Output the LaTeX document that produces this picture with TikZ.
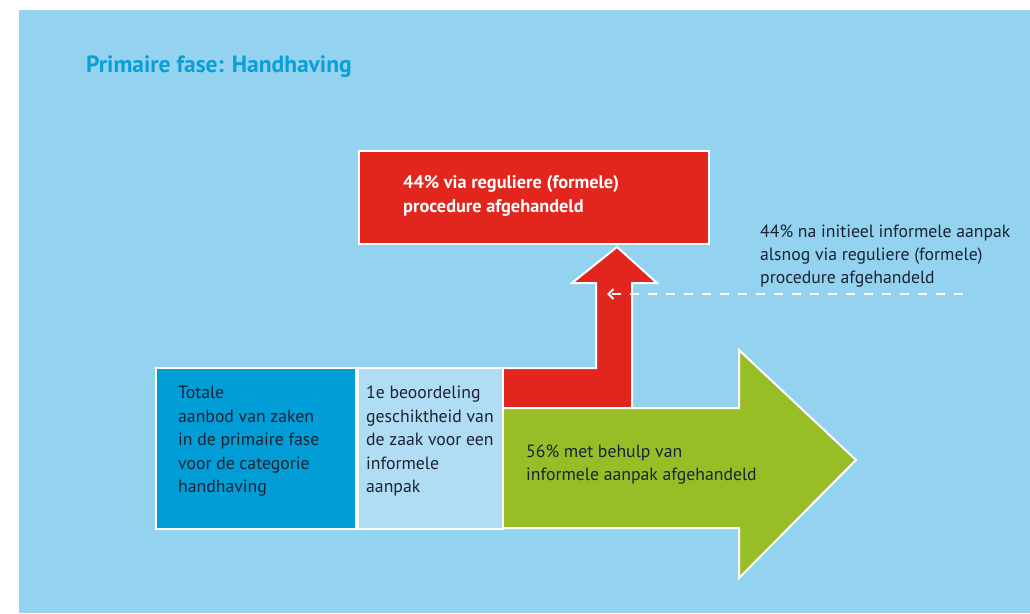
\documentclass[tikz,border=0pt]{standalone}
\usepackage{fontspec}
\setmainfont{PT Sans}
\usepackage{xcolor}
\usepackage{tikz}
\usetikzlibrary{arrows.meta}
\definecolor{achtergrond}{HTML}{93D3EF}
\definecolor{titelblauw}{HTML}{0A9FD8}
\definecolor{donkerblauw}{HTML}{009DD7}
\definecolor{lichtblauw}{HTML}{B0DDF3}
\definecolor{rood}{HTML}{E3261D}
\definecolor{groen}{HTML}{98BE27}
\definecolor{tekstkleur}{HTML}{1B2233}

\begin{document}
\begin{tikzpicture}[x=1pt,y=-1pt,
  vlak/.style={draw=white,line width=2pt},
  blok/.style={vlak,anchor=north west,inner sep=0pt},
  tekstje/.style={align=left,anchor=north west,inner sep=0pt,text=tekstkleur,
    font=\fontsize{17.7}{23.5}\selectfont}]
\useasboundingbox (0,0) rectangle (1030,613);
\fill[achtergrond] (19,10) rectangle (1030,613);
\node[anchor=base west,inner sep=0pt,text=titelblauw,font=\fontsize{23.5}{28}\selectfont\bfseries] (titel) at (86,72) {Primaire fase: Handhaving};
% rode pijl omhoog en rood vlak
\filldraw[vlak,fill=rood] (502,368) -- (596,368) -- (596,283) -- (572,283) -- (617,247)
  -- (657,283) -- (632,283) -- (632,408) -- (502,408) -- cycle;
\node[blok,fill=rood,minimum width=350pt,minimum height=93pt] (formeel) at (358,150) {};
% groene pijl
\filldraw[vlak,fill=groen] (502,408) -- (739,408) -- (739,350) -- (856,460) -- (739,578)
  -- (739,528) -- (502,528) -- cycle;
\node[blok,fill=donkerblauw,minimum width=200pt,minimum height=161pt] (totaal) at (155,367) {};
\node[blok,fill=lichtblauw,minimum width=145pt,minimum height=161pt] (beoordeling) at (357,367) {};
% teksten
\node[tekstje,text=white,font=\fontsize{18.3}{24}\selectfont\bfseries] (formeeltekst) at (403,175) {44\% via reguliere (formele)\\procedure afgehandeld};
\node[tekstje] (totaaltekst) at (178,386) {Totale\\aanbod van zaken\\in de primaire fase\\voor de categorie\\handhaving};
\node[tekstje] (beoordelingtekst) at (366,386) {1e beoordeling\\geschiktheid van\\de zaak voor een\\informele\\aanpak};
\node[tekstje,font=\fontsize{17.7}{22.5}\selectfont] (informeeltekst) at (526,445) {56\% met behulp van\\informele aanpak afgehandeld};
\node[tekstje,font=\fontsize{17.7}{23}\selectfont] (alsnogtekst) at (760,225) {44\% na initieel informele aanpak\\alsnog via reguliere (formele)\\procedure afgehandeld};
% gestippelde pijl
\coordinate (streepbegin) at (963,294);
\coordinate (streepeind) at (607,294);
\draw[white,line width=2pt,dash pattern=on 9pt off 9pt,-{Straight Barb[length=5pt,width=10pt]}] (streepbegin) -- (streepeind);
\end{tikzpicture}
\end{document}
